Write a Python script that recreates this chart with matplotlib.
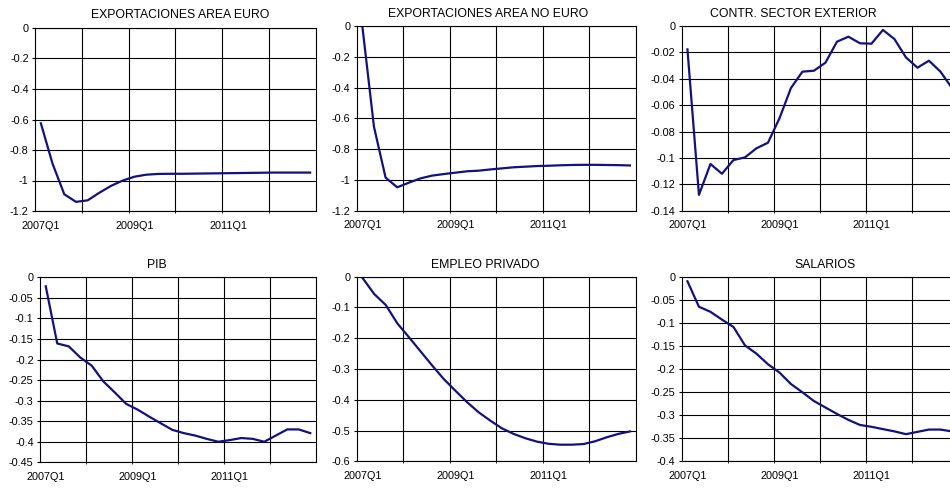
import matplotlib
matplotlib.use('Agg')
import matplotlib.pyplot as plt
from matplotlib.ticker import FixedLocator, FormatStrFormatter, MultipleLocator
import numpy as np

plt.rcParams['font.family'] = ['Liberation Sans', 'DejaVu Sans']
plt.rcParams['axes.unicode_minus'] = False

quarters = ['%dQ%d' % (y, q) for y in range(2007, 2013) for q in range(1, 5)]

titles = ['EXPORTACIONES AREA EURO', 'EXPORTACIONES AREA NO EURO',
          'CONTR. SECTOR EXTERIOR', 'PIB', 'EMPLEO PRIVADO', 'SALARIOS']

export_euro = [-0.625, -0.89, -1.09, -1.14, -1.13, -1.08, -1.035, -1.0,
               -0.975, -0.962, -0.957, -0.956, -0.956, -0.955, -0.954, -0.953,
               -0.952, -0.951, -0.950, -0.949, -0.948, -0.948, -0.948, -0.948]
export_no_euro = [0.0, -0.654, -0.985, -1.048, -1.018, -0.99, -0.972, -0.962,
                  -0.953, -0.944, -0.94, -0.932, -0.925, -0.918, -0.914, -0.91,
                  -0.908, -0.905, -0.903, -0.902, -0.902, -0.903, -0.904, -0.906]
sector_ext = [-0.0177, -0.128, -0.1046, -0.112, -0.1016, -0.0996, -0.0927, -0.0885,
              -0.070, -0.047, -0.0346, -0.0339, -0.0278, -0.0119, -0.0081, -0.0131,
              -0.0134, -0.003, -0.0099, -0.0238, -0.0316, -0.0263, -0.0346, -0.047]
pib = [-0.022, -0.161, -0.168, -0.195, -0.215, -0.253, -0.28, -0.308,
       -0.322, -0.339, -0.355, -0.371, -0.379, -0.385, -0.393, -0.4,
       -0.396, -0.391, -0.393, -0.4, -0.385, -0.37, -0.37, -0.379]
empleo = [-0.004, -0.056, -0.092, -0.152, -0.197, -0.243, -0.289, -0.333,
          -0.371, -0.408, -0.441, -0.468, -0.493, -0.511, -0.525, -0.536,
          -0.543, -0.546, -0.546, -0.544, -0.535, -0.522, -0.511, -0.503]
salarios = [-0.0087, -0.064, -0.075, -0.092, -0.108, -0.148, -0.166, -0.189,
            -0.207, -0.232, -0.25, -0.269, -0.283, -0.297, -0.31, -0.321,
            -0.325, -0.33, -0.335, -0.341, -0.336, -0.331, -0.331, -0.335]

series = [export_euro, export_no_euro, sector_ext, pib, empleo, salarios]
y_min = [-1.2, -1.2, -0.14, -0.45, -0.6, -0.4]
y_step = [0.2, 0.2, 0.02, 0.05, 0.1, 0.05]

W, H = 950, 488
# plot boxes in pixels: left, right, top, bottom
boxes = [(35, 316, 28, 211), (356.5, 635.7, 26, 210.7), (681.7, 957.7, 26, 210.7),
         (40, 316, 277.3, 462.3), (356.7, 635.7, 276.7, 461.3), (681.7, 957.7, 277.3, 461.3)]
title_pos = [(180, 15), (488, 14), (793, 14), (157, 265), (485, 265), (825, 265)]

fig = plt.figure(figsize=(W / 100, H / 100), dpi=100)
fig.patch.set_facecolor('white')

x = np.arange(len(quarters))
for i in range(6):
    l, r, t, b = boxes[i]
    ax = fig.add_axes([l / W, 1 - b / H, (r - l) / W, (b - t) / H])
    ax.plot(x, series[i], color='#12127f', lw=1.6, solid_joinstyle='round')
    ax.set_xlim(-0.5, len(quarters) - 0.5)
    ax.set_ylim(y_min[i], 0)
    ax.yaxis.set_major_locator(MultipleLocator(y_step[i]))
    ax.yaxis.set_major_formatter(FormatStrFormatter('%g'))
    ax.set_xticks(x[::8])
    ax.set_xticklabels([quarters[k] for k in x[::8]])
    ax.xaxis.set_minor_locator(FixedLocator(np.arange(3.5, len(quarters) - 1, 4)))
    ax.grid(axis='y', which='major', color='black', lw=0.8)
    ax.grid(axis='x', which='minor', color='black', lw=0.8)
    ax.tick_params(axis='x', which='major', length=0, pad=7, labelsize=7.8)
    ax.tick_params(axis='x', which='minor', length=3, direction='inout')
    ax.tick_params(axis='y', length=2.5, width=0.8, pad=2, labelsize=7.8)
    for s in ax.spines.values():
        s.set_linewidth(0.8)
    ax.set_axisbelow(True)
    tx, ty = title_pos[i]
    fig.text(tx / W, 1 - ty / H, titles[i], ha='center', va='center', fontsize=8.8)

fig.savefig('out.png', dpi=100, facecolor='white')
